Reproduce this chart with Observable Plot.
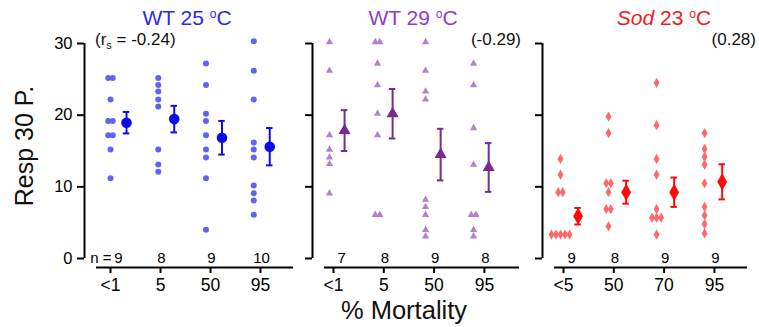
<!DOCTYPE html>
<html><head><meta charset="utf-8">
<script src="https://cdn.jsdelivr.net/npm/d3@7"></script>
<script src="https://cdn.jsdelivr.net/npm/@observablehq/plot@0.6"></script>
<style>
body{margin:0;background:#fff;}
#wrap{position:relative;width:759px;height:327px;font-family:"Liberation Sans",Arial,sans-serif;overflow:hidden;}
.panel{position:absolute;top:0;}
#overlay{position:absolute;left:0;top:0;pointer-events:none;}
</style></head><body><div id="wrap"></div>
<script>
// ---- data ----
const yTicks = [0, 10, 20, 30];

const wt25Labels = ["<1", "5", "50", "95"];
const wt25N = [9, 8, 9, 10];
const wt25Values = [
  [25.2, 25.2, 22.2, 19.2, 19.2, 17.2, 17.2, 15.2, 11.2],
  [25.2, 24.2, 23.3, 22.2, 21.2, 15.2, 13.1, 12.1],
  [27.2, 24.2, 20.2, 19.2, 17.2, 15.2, 14.1, 11.2, 4.0],
  [30.3, 26.2, 22.2, 16.2, 15.2, 14.1, 10.2, 9.1, 8.1, 6.1]
];
const wt25Means = [18.95, 19.45, 16.85, 15.6];
const wt25Sem = [1.5, 1.85, 2.35, 2.6];

const wt29Labels = ["<1", "5", "50", "95"];
const wt29N = [7, 8, 9, 8];
const wt29Values = [
  [30.2, 26.2, 17.2, 15.2, 14.1, 13.2, 9.1],
  [30.2, 30.2, 27.2, 24.2, 20.2, 17.2, 6.1, 6.1],
  [30.2, 26.2, 23.3, 22.2, 8.2, 7.2, 6.1, 4.0, 3.1],
  [27.2, 24.2, 18.2, 13.1, 6.1, 6.1, 4.0, 3.1]
];
const wt29Means = [17.85, 20.2, 14.5, 12.7];
const wt29Sem = [2.85, 3.45, 3.6, 3.4];

const sodLabels = ["<5", "50", "70", "95"];
const sodN = [9, 8, 9, 9];
const sodValues = [
  [13.9, 11.7, 9.25, 9.25, 3.35, 3.35, 3.35, 3.35, 3.35],
  [19.8, 17.5, 10.5, 10.5, 9.25, 6.9, 6.9, 4.5],
  [24.5, 18.6, 13.9, 11.7, 6.9, 5.7, 5.7, 5.7, 3.35],
  [17.5, 15.3, 14.2, 13.1, 10.5, 7.2, 6.0, 4.8, 3.5]
];
const sodMeans = [5.9, 9.25, 9.25, 10.7];
const sodSem = [1.15, 1.6, 2.05, 2.45];

const annotations = ["-0.24", "-0.29", "0.28"];

// ---- layout ----
const STEP = 0.955, JIT = 0.09, CAP = 0.065;
const panels = [
  {left: 0, width: 300, mL: 84, mR: 7, domain: [-0.52, 3.66], ppu: 50,
   labels: wt25Labels, n: wt25N, values: wt25Values, means: wt25Means, sem: wt25Sem,
   symbol: "circle", r: 3, mr: 5.3, light: "#6262f4", dark: "#0c0ce8", showY: true, dotOff: 0, meanOff: 0.32},
  {left: 300, width: 230, mL: 12, mR: 11, domain: [-0.4175, 3.698], ppu: 50.3,
   labels: wt29Labels, n: wt29N, values: wt29Values, means: wt29Means, sem: wt29Sem,
   symbol: "triangle", r: 2.7, mr: 4.5, light: "#b283cc", dark: "#7a2a8e", showY: false, dotOff: -0.08, meanOff: 0.22},
  {left: 530, width: 229, mL: 12, mR: 12, domain: [-0.4175, 3.658], ppu: 50.3,
   labels: sodLabels, n: sodN, values: sodValues, means: sodMeans, sem: sodSem,
   symbol: "diamond", r: 3.1, mr: 5.2, light: "#ff6868", dark: "#ff0a0a", showY: false, dotOff: -0.06, meanOff: 0.29}
];

const wrap = document.getElementById("wrap");

panels.forEach((p, pi) => {
  const dots = [];
  p.values.forEach((vals, i) => {
    const counts = d3.rollup(vals, v => v.length, v => v);
    const seen = new Map();
    vals.forEach(v => {
      const k = counts.get(v), j = seen.get(v) || 0;
      seen.set(v, j + 1);
      dots.push({x: i * STEP + p.dotOff + (j - (k - 1) / 2) * JIT, y: v});
    });
  });
  const summary = p.means.map((m, i) => ({x: i * STEP + p.meanOff, m, lo: m - p.sem[i], hi: m + p.sem[i]}));
  const axisStart = p.domain[0] + 12 / p.ppu;
  const marks = [
    Plot.ruleX([p.domain[0]], {y1: 0, y2: 30, strokeWidth: 2}),
    Plot.ruleY([0], {x1: axisStart, x2: p.domain[1], dy: 9, strokeWidth: 2}),
    Plot.axisY({ticks: yTicks, anchor: "left", tickSize: 7, tickPadding: 5, fontSize: 16.5, strokeWidth: 2,
      tickFormat: p.showY ? (d => String(d)) : (() => ""), label: null}),
    Plot.axisX({ticks: [0, 1, 2, 3], anchor: "bottom", tickSize: 6, tickPadding: 5, fontSize: 17.5, strokeWidth: 2,
      tickFormat: i => p.labels[i], label: null}),
    Plot.dot(dots, {x: "x", y: "y", symbol: p.symbol, r: p.r, fill: p.light, stroke: null}),
    Plot.ruleX(summary, {x: "x", y1: "lo", y2: "hi", stroke: p.dark, strokeWidth: 2}),
    Plot.ruleY(summary, {x1: d => d.x - CAP, x2: d => d.x + CAP, y: "hi", stroke: p.dark, strokeWidth: 2}),
    Plot.ruleY(summary, {x1: d => d.x - CAP, x2: d => d.x + CAP, y: "lo", stroke: p.dark, strokeWidth: 2}),
    Plot.dot(summary, {x: "x", y: "m", symbol: p.symbol, r: p.mr, fill: p.dark, stroke: null}),
    Plot.text(p.n, {x: (d, i) => i + (i === 0 ? 0.16 : 0.02), y: () => 0, text: d => String(d),
      fontSize: 15, lineAnchor: "middle"})
  ];
  if (pi === 0) {
    marks.push(Plot.text(["n ="], {x: () => 0.16, y: () => 0, text: d => d, fontSize: 15,
      lineAnchor: "middle", textAnchor: "end", dx: -7}));
  }
  const svg = Plot.plot({
    width: p.width, height: 327,
    marginLeft: p.mL, marginRight: p.mR, marginTop: 43, marginBottom: 60,
    style: {fontFamily: "Liberation Sans, Arial, sans-serif", background: "transparent", color: "black", overflow: "visible"},
    x: {domain: p.domain},
    y: {domain: [0, 30], insetBottom: 9},
    marks
  });
  const div = document.createElement("div");
  div.className = "panel";
  div.style.left = p.left + "px";
  div.appendChild(svg);
  wrap.appendChild(div);
});

// ---- titles & labels (real text) ----
const ff = 'font-family="Liberation Sans, Arial, sans-serif"';
const deg = () => `<tspan dy="-7" font-size="12">o</tspan><tspan dy="7">C</tspan>`;
wrap.insertAdjacentHTML("beforeend", `
<svg id="overlay" width="759" height="327" ${ff}>
  <text x="187" y="25" font-size="21" text-anchor="middle" fill="#2b2be6">WT 25 ${deg()}</text>
  <text x="413" y="25" font-size="21" text-anchor="middle" fill="#8a3cd8">WT 29 ${deg()}</text>
  <text x="664" y="25" font-size="21" text-anchor="middle" fill="#ee1c1c"><tspan font-style="italic">Sod</tspan> 23 ${deg()}</text>
  <text x="95" y="45" font-size="17" fill="#111">(r<tspan dy="4" font-size="11">s</tspan><tspan dy="-4"> = ${annotations[0]})</tspan></text>
  <text x="521" y="45" font-size="17" text-anchor="end" fill="#111">(${annotations[1]})</text>
  <text x="756" y="45" font-size="17" text-anchor="end" fill="#111">(${annotations[2]})</text>
  <text x="404" y="319" font-size="25.5" text-anchor="middle" fill="#111">% Mortality</text>
  <text transform="translate(33,146) rotate(-90)" font-size="25" text-anchor="middle" fill="#111">Resp 30 P.</text>
</svg>`);
</script>
</body></html>
